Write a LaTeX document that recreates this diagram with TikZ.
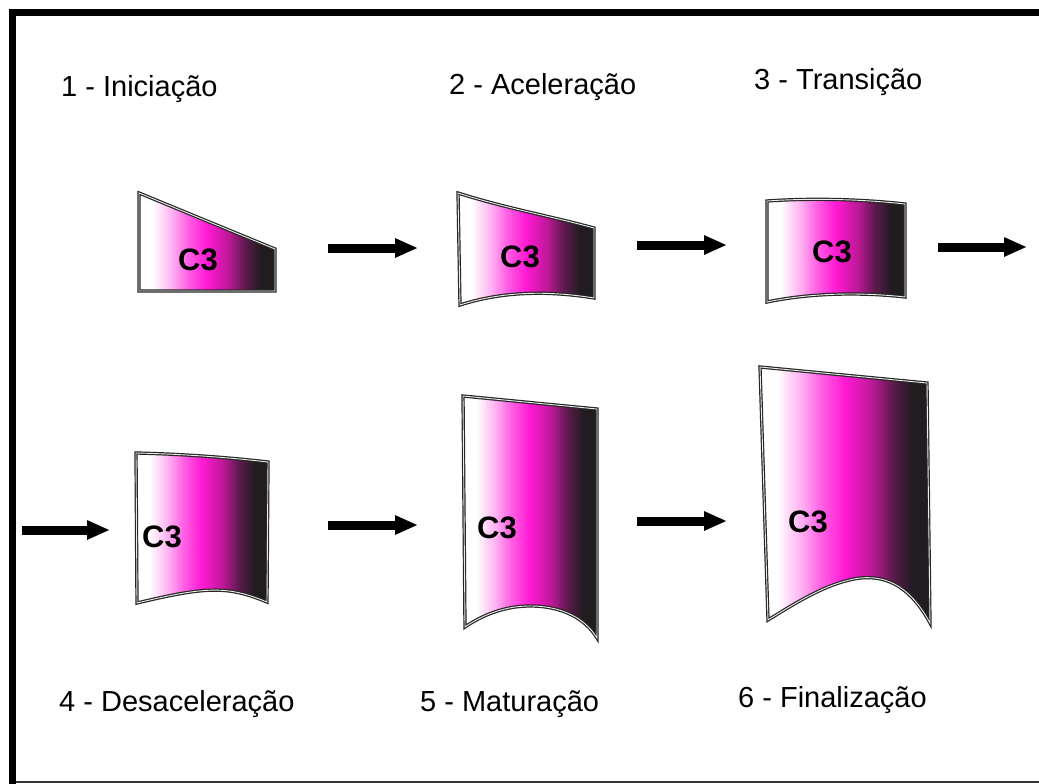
\documentclass[tikz,border=0pt]{standalone}
\usepackage{fontspec}
\setmainfont{Liberation Sans}
\usetikzlibrary{arrows.meta}

% colour ramp of the C3 cells: white -> magenta -> black
\definecolor{c3pale}{RGB}{255,178,242}
\definecolor{c3pink}{RGB}{255,95,226}
\definecolor{c3mag}{RGB}{255,25,212}
\definecolor{c3plum}{RGB}{188,24,150}
\definecolor{c3dark}{RGB}{92,26,76}
\definecolor{c3black}{RGB}{32,28,32}
\pgfdeclarehorizontalshading{cthree}{100bp}{%
  color(0bp)=(white); color(25bp)=(white); color(30bp)=(white);
  color(37bp)=(c3pale); color(43bp)=(c3pink); color(50bp)=(c3mag);
  color(58bp)=(c3plum); color(64bp)=(c3dark); color(70bp)=(c3black);
  color(75bp)=(c3black); color(100bp)=(c3black)}

\tikzset{
  cell/.style={shading=cthree, draw=black!85, line width=1.2pt,
               double=white!85!gray, double distance=0.9pt, line join=miter},
  flow/.style={line width=9pt, -{Triangle[length=23pt,width=18pt]}},
  stage/.style={font=\fontsize{29}{32}\selectfont, anchor=base west, inner sep=0pt},
  tag/.style={font=\fontsize{31}{33}\selectfont\bfseries, inner sep=0pt},
}

\begin{document}
\begin{tikzpicture}[x=1pt,y=-1pt]
\useasboundingbox (0,0) rectangle (1039,784);

% frame
\fill[black] (9,9) rectangle (1039,16);
\fill[black] (9,9) rectangle (16,784);
\fill[black!80] (16,781) rectangle (1039,783);

% stage titles
\node[stage] (l1) at (61,96)  {1 - Iniciação};
\node[stage] (l2) at (449,94) {2 - Aceleração};
\node[stage] (l3) at (754,89) {3 - Transição};
\node[stage] (l4) at (59,711)  {4 - Desaceleração};
\node[stage] (l5) at (420,711) {5 - Maturação};
\node[stage] (l6) at (738,707) {6 - Finalização};

% cells
\shade[cell] (139,193) -- (275,249) -- (275,291) -- (139,291) -- cycle;
\shade[cell] (458,193) .. controls (505,208) and (550,216) .. (594,228)
  -- (594,298) .. controls (545,290) and (500,292) .. (460,305) -- cycle;
\shade[cell] (767,201) .. controls (810,198) and (860,199) .. (905,204)
  -- (905,297) .. controls (860,292) and (810,293) .. (767,302) -- cycle;
\shade[cell] (136,453) .. controls (180,454) and (225,457) .. (268,462)
  -- (267,602) .. controls (228,586) and (208,586) .. (137,603) -- cycle;
\shade[cell] (463,396) -- (597,409) -- (597,638)
  .. controls (580,610) and (545,603) .. (515,607)
  .. controls (495,610) and (478,618) .. (465,627) -- cycle;
\shade[cell] (760,367) -- (927,383) -- (930,623)
  .. controls (912,590) and (890,575) .. (860,578)
  .. controls (830,582) and (800,600) .. (768,620) -- cycle;

% cell labels
\node[tag] (c1) at (198,260) {C3};
\node[tag] (c2) at (520,257) {C3};
\node[tag] (c3) at (832,252) {C3};
\node[tag] (c4) at (162,537) {C3};
\node[tag] (c5) at (497,528) {C3};
\node[tag] (c6) at (808,522) {C3};

% flow arrows
\coordinate (a1s) at (328,248); \coordinate (a1e) at (418,248);
\coordinate (a2s) at (637,245); \coordinate (a2e) at (727,245);
\coordinate (a3s) at (938,247); \coordinate (a3e) at (1027,247);
\coordinate (a4s) at (22,530);  \coordinate (a4e) at (110,530);
\coordinate (a5s) at (328,525); \coordinate (a5e) at (418,525);
\coordinate (a6s) at (637,521); \coordinate (a6e) at (727,521);
\draw[flow] (a1s) -- (a1e);
\draw[flow] (a2s) -- (a2e);
\draw[flow] (a3s) -- (a3e);
\draw[flow] (a4s) -- (a4e);
\draw[flow] (a5s) -- (a5e);
\draw[flow] (a6s) -- (a6e);
\end{tikzpicture}
\end{document}
